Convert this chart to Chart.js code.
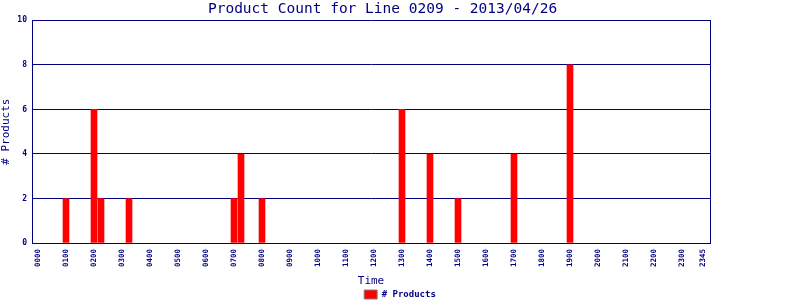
<!DOCTYPE html>
<html lang="en">
<head>
  <meta charset="UTF-8" />
  <title>Product Count</title>
  <script src="https://cdn.jsdelivr.net/npm/chart.js"></script>
  <style>
    html, body { margin: 0; padding: 0; background: #fff; }
    #wrap { width: 800px; height: 300px; }
  </style>
</head>
<body>
  <div id="wrap"><canvas id="countChart"></canvas></div>

  <script>
    // 15 minute slots, 0000 .. 2345
    const hours = ['00','01','02','03','04','05','06','07','08','09','10','11',
                   '12','13','14','15','16','17','18','19','20','21','22','23'];
    const quarters = ['00', '15', '30', '45'];
    const slots = [];
    hours.forEach(h => quarters.forEach(q => slots.push(h + q)));

    // one row per hour: :00 :15 :30 :45
    const productCounts = [
      0, 0, 0, 0,   // 00
      2, 0, 0, 0,   // 01
      6, 2, 0, 0,   // 02
      0, 2, 0, 0,   // 03
      0, 0, 0, 0,   // 04
      0, 0, 0, 0,   // 05
      0, 0, 0, 0,   // 06
      2, 4, 0, 0,   // 07
      2, 0, 0, 0,   // 08
      0, 0, 0, 0,   // 09
      0, 0, 0, 0,   // 10
      0, 0, 0, 0,   // 11
      0, 0, 0, 0,   // 12
      6, 0, 0, 0,   // 13
      4, 0, 0, 0,   // 14
      2, 0, 0, 0,   // 15
      0, 0, 0, 0,   // 16
      4, 0, 0, 0,   // 17
      0, 0, 0, 0,   // 18
      8, 0, 0, 0,   // 19
      0, 0, 0, 0,   // 20
      0, 0, 0, 0,   // 21
      0, 0, 0, 0,   // 22
      0, 0, 0, 0    // 23
    ];

    const yTicks = [0, 2, 4, 6, 8, 10];

    const navy = '#000080';
    const mono = "'DejaVu Sans Mono', 'Liberation Mono', monospace";

    // slot index on a linear axis so the bars sit where the original put them;
    // empty slots are left out so no flat red sliver is drawn on the axis
    const points = productCounts
      .map((v, i) => ({ x: i, y: v }))
      .filter(p => p.y > 0);

    new Chart(document.getElementById('countChart'), {
      type: 'bar',
      data: {
        datasets: [{
          label: '# Products',
          data: points,
          backgroundColor: '#ff0000',
          borderColor: '#808080',
          borderWidth: 0,
          barThickness: 6
        }]
      },
      options: {
        responsive: true,
        maintainAspectRatio: false,
        animation: false,
        layout: { padding: { top: 0, left: 0, right: 0, bottom: -9 } },
        plugins: {
          title: {
            display: true,
            // trailing spaces nudge the title left like the original
            text: 'Product Count for Line 0209 - 2013/04/26    ',
            color: navy,
            font: { family: mono, size: 14.5, weight: 'normal' },
            padding: { top: 1, bottom: 2 }
          },
          legend: {
            position: 'bottom',
            labels: {
              color: navy,
              font: { family: mono, size: 9, weight: 'bold' },
              boxWidth: 13,
              boxHeight: 9,
              padding: 2,
              generateLabels(chart) {
                const items = Chart.defaults.plugins.legend.labels.generateLabels(chart);
                items.forEach(it => { it.lineWidth = 1; it.strokeStyle = '#808080'; });
                return items;
              }
            }
          },
          tooltip: { enabled: false }
        },
        scales: {
          x: {
            type: 'linear',
            offset: false,
            min: -0.857,
            max: 96,
            afterFit(scale) { scale.height = 45; },
            afterBuildTicks(scale) { scale.ticks = slots.map((s, i) => ({ value: i })); },
            grid: { display: false, drawTicks: false },
            border: { color: navy, width: 1 },
            title: {
              display: true,
              text: 'Time',
              color: navy,
              font: { family: mono, size: 11 },
              padding: { top: 2, bottom: 0 }
            },
            ticks: {
              autoSkip: false,
              minRotation: 90,
              maxRotation: 90,
              padding: 6,
              color: navy,
              font: { family: mono, size: 7.5, weight: 'bold' },
              callback(value) {
                return (value % 4 === 0 || value === slots.length - 1) ? slots[value] : '';
              }
            }
          },
          y: {
            min: 0,
            max: 10,
            afterFit(scale) { scale.width = 32; },
            afterBuildTicks(scale) { scale.ticks = yTicks.map(v => ({ value: v })); },
            grid: { color: navy, drawTicks: false, z: -1 },
            border: { color: navy, width: 1 },
            title: {
              display: true,
              text: '# Products',
              color: navy,
              font: { family: mono, size: 11 },
              padding: { top: 0, bottom: 4 }
            },
            ticks: {
              padding: 5,
              color: navy,
              font: { family: mono, size: 8, weight: 'bold' }
            }
          },
          // empty right axis: gives the right frame edge and the blank margin
          y2: {
            position: 'right',
            afterFit(scale) { scale.width = 90; },
            grid: { display: false, drawTicks: false },
            border: { color: navy, width: 1 },
            ticks: { display: false }
          }
        }
      }
    });
  </script>
</body>
</html>
